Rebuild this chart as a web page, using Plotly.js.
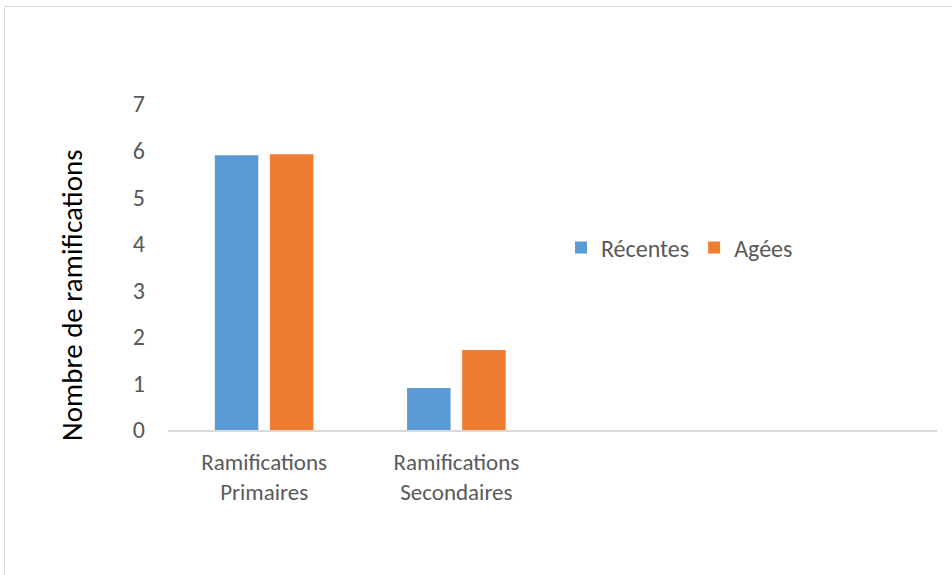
<!DOCTYPE html>
<html>
<head>
<meta charset="utf-8">
<script src="https://cdn.plot.ly/plotly-3.0.1.min.js"></script>
<style>
  html, body { margin: 0; padding: 0; background: #ffffff; }
  #chart { width: 952px; height: 575px; }
</style>
</head>
<body>
<div id="chart"></div>
<script>
// Categories on the x axis (two trailing empty slots keep the original spacing)
const categories = ["Ramifications<br>Primaires", "Ramifications<br>Secondaires"];
const emptySlots = [" ", "  "];

// Mean number of branches per category
const recentes = [5.9, 0.9];
const agees = [5.92, 1.72];

const seriesNames = ["Récentes", "Agées"];
const yTicks = [0, 1, 2, 3, 4, 5, 6, 7];

const W = 952, H = 575;
const margin = { l: 168, r: 15, t: 104, b: 145 };
const plotW = W - margin.l - margin.r;
const plotH = H - margin.t - margin.b;
const px = x => (x - margin.l) / plotW;
const py = y => (H - margin.b - y) / plotH;

const font = "Carlito, 'Open Sans', 'Liberation Sans', sans-serif";

const traces = [
  {
    type: "bar", name: seriesNames[0], x: categories, y: recentes,
    marker: { color: "#5b9bd5", line: { width: 0 } }
  },
  {
    type: "bar", name: seriesNames[1], x: categories, y: agees,
    marker: { color: "#ed7d31", line: { width: 0 } }
  }
];

const layout = {
  width: W, height: H,
  margin: margin,
  paper_bgcolor: "#ffffff",
  plot_bgcolor: "#ffffff",
  barmode: "group",
  bargap: 0.427,
  bargroupgap: 0.21,
  showlegend: true,
  legend: {
    orientation: "h",
    x: px(561), y: py(248), xanchor: "left", yanchor: "middle",
    font: { family: font, size: 24, color: "#595959" },
    itemwidth: 30, tracegroupgap: 0,
    bgcolor: "rgba(0,0,0,0)"
  },
  xaxis: {
    type: "category",
    categoryorder: "array",
    categoryarray: categories.concat(emptySlots),
    range: [-0.5, 3.5],
    showline: true, linecolor: "#d9d9d9", linewidth: 2,
    ticks: "", showgrid: false, zeroline: false,
    ticklabelstandoff: 10,
    tickfont: { family: font, size: 23, color: "#595959" },
    automargin: false
  },
  yaxis: {
    range: [0, 7],
    tickvals: yTicks,
    showgrid: false, zeroline: false, showline: false,
    ticks: "", ticklabelstandoff: 22,
    tickfont: { family: font, size: 24, color: "#595959" },
    automargin: false
  },
  annotations: [
    {
      text: "Nombre de ramifications",
      xref: "paper", yref: "paper",
      x: px(72), y: py(295), xanchor: "center", yanchor: "middle",
      textangle: -90, showarrow: false,
      font: { family: font, size: 29, color: "#000000" }
    }
  ],
  shapes: [
    {
      type: "rect", xref: "paper", yref: "paper", layer: "below",
      x0: px(4.5), x1: px(960), y0: py(6.5), y1: py(590),
      line: { color: "#d9d9d9", width: 1 }, fillcolor: "rgba(0,0,0,0)"
    }
  ]
};

Plotly.newPlot("chart", traces, layout, { displayModeBar: false, staticPlot: true });
</script>
</body>
</html>
